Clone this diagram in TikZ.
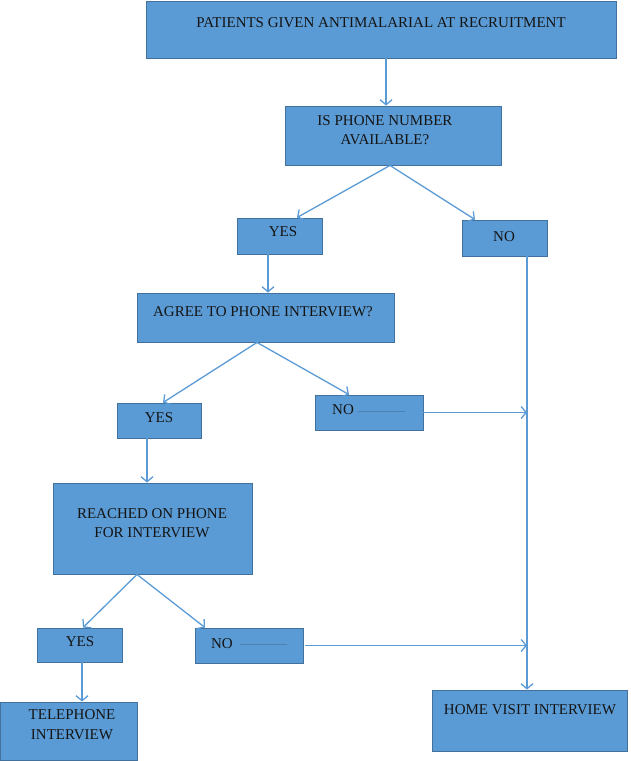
\documentclass[tikz,border=0pt]{standalone}
\usepackage{fontspec}
\setmainfont{Liberation Serif}
\usetikzlibrary{arrows.meta}
\definecolor{boxfill}{HTML}{5B9BD5}
\definecolor{boxline}{HTML}{41719C}
\definecolor{arrcol}{HTML}{5B9BD5}
\definecolor{txtcol}{HTML}{141414}
\tikzset{
  box/.style={draw=boxline, fill=boxfill, line width=0.9pt, inner sep=0pt},
  txt/.style={text=txtcol, font=\fontsize{15}{19.5}\selectfont, align=center, inner sep=0pt},
  arr/.style={draw=arrcol, line width=1.3pt, -{Straight Barb[length=5pt,width=12pt]}},
  thinl/.style={draw=boxline!60!boxfill, line width=0.5pt}
}
\begin{document}
\begin{tikzpicture}[x=1pt,y=-1pt]
\useasboundingbox (0,0) rectangle (630,761);
% boxes
\node[box, minimum width=470pt, minimum height=57pt] (b1) at (381,29.5) {};
\node[box, minimum width=216pt, minimum height=59pt] (b2) at (393,135.5) {};
\node[box, minimum width=85pt, minimum height=36pt] (yes1) at (279.5,236) {};
\node[box, minimum width=85pt, minimum height=36pt] (no1) at (504.5,238) {};
\node[box, minimum width=257pt, minimum height=49pt] (agree) at (265.5,317.5) {};
\node[box, minimum width=84pt, minimum height=35pt] (yes2) at (159,420.5) {};
\node[box, minimum width=108pt, minimum height=35pt] (no2) at (369,412.5) {};
\node[box, minimum width=199pt, minimum height=91pt] (reached) at (152.5,528.5) {};
\node[box, minimum width=85pt, minimum height=34pt] (yes3) at (79.5,645) {};
\node[box, minimum width=108pt, minimum height=35pt] (no3) at (249,645.5) {};
\node[box, minimum width=137pt, minimum height=58pt] (tel) at (68.5,731) {};
\node[box, minimum width=195pt, minimum height=61pt] (home) at (529.5,720.5) {};
% texts
\node[txt] (tb1) at (381,23) {PATIENTS GIVEN ANTIMALARIAL AT RECRUITMENT};
\node[txt] (tb2) at (385,130) {IS PHONE NUMBER\\AVAILABLE?};
\node[txt] (tyes1) at (283,232) {YES};
\node[txt] (tno1) at (504,237) {NO};
\node[txt] (tagree) at (263,312) {AGREE TO PHONE INTERVIEW?};
\node[txt] (tyes2) at (159,418) {YES};
\node[txt] (tno2) at (343,410) {NO};
\node[txt] (treached) at (152,523) {REACHED ON PHONE\\FOR INTERVIEW};
\node[txt] (tyes3) at (80,642) {YES};
\node[txt] (tno3) at (222,644) {NO};
\node[txt] (ttel) at (72,724.5) {TELEPHONE\\INTERVIEW};
\node[txt] (thome) at (530,710) {HOME VISIT INTERVIEW};
% thin lines inside NO boxes
\coordinate (l2a) at (358,411);
\coordinate (l2b) at (405,411);
\coordinate (l3a) at (240,644);
\coordinate (l3b) at (287,644);
\draw[thinl] (l2a) -- (l2b);
\draw[thinl] (l3a) -- (l3b);
% connectors
\coordinate (vx) at (527,0);
\coordinate (s1) at ([xshift=5pt]b1.south);
\coordinate (s2) at ([xshift=-3pt]b2.south);
\coordinate (s3) at ([xshift=-11.5pt]yes1.south);
\coordinate (s4) at ([xshift=-8.5pt]agree.south);
\coordinate (s5) at ([xshift=-12pt]yes2.south);
\coordinate (s6) at ([xshift=-15.5pt]reached.south);
\coordinate (s7) at ([xshift=2.5pt]yes3.south);
\draw[arr] (s1) -- (s1 |- b2.north);
\draw[arr] (s2) -- ([xshift=17.5pt]yes1.north);
\draw[arr] (s2) -- ([xshift=-29.5pt]no1.north);
\draw[arr] (s3) -- (s3 |- agree.north);
\draw[arr] (s4) -- ([xshift=4pt]yes2.north);
\draw[arr] (s4) -- ([xshift=-20pt]no2.north);
\draw[arr] (no1.south -| vx) -- (home.north -| vx);
\draw[arr] (no2.east) -- (no2.east -| vx);
\draw[arr] (s5) -- (s5 |- reached.north);
\draw[arr] (s6) -- ([xshift=3.5pt]yes3.north);
\draw[arr] (s6) -- ([xshift=-44pt]no3.north);
\draw[arr] ([xshift=2pt]no3.east) -- (no3.east -| vx);
\draw[arr] (s7) -- (s7 |- tel.north);
\end{tikzpicture}
\end{document}
